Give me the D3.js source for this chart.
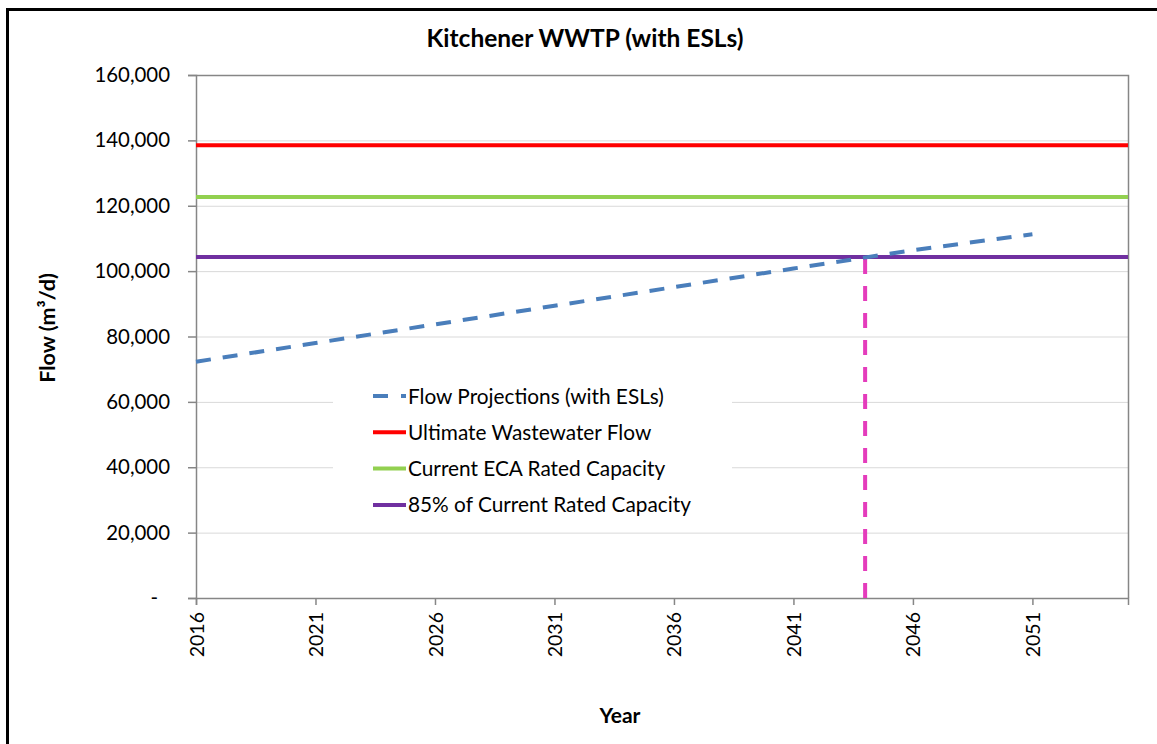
<!DOCTYPE html>
<html lang="en">
<head>
    <meta charset="UTF-8">
    <title>Kitchener WWTP (with ESLs)</title>
    <script src="https://cdn.jsdelivr.net/npm/d3@7"></script>
    <style>
        body { margin: 0; background: #fff; }
        text { font-family: Lato, "Open Sans", sans-serif; fill: #000; }
    </style>
</head>
<body>
    <script>
        // Flow projections (with ESLs), every 5 years
        var years = [2016, 2021, 2026, 2031, 2036, 2041, 2046, 2051];
        var flows = [72300, 78000, 83700, 89400, 95100, 100800, 106400, 111300];

        // Capacity lines (m3/d)
        var ultimateFlow = 138500;
        var ecaCapacity = 122700;
        var capacity85 = 104300;
        var crossYear = 2044;

        var xTicks = [2016, 2021, 2026, 2031, 2036, 2041, 2046, 2051];
        var yTicks = [0, 20000, 40000, 60000, 80000, 100000, 120000, 140000, 160000];
        var xDomain = [2016, 2055];

        var legendLabels = ["Flow Projections (with ESLs)", "Ultimate Wastewater Flow",
                            "Current ECA Rated Capacity", "85% of Current Rated Capacity"];
        var colors = ["#4a7ebb", "#ff0000", "#92d050", "#7030a0"];

        var W = 1157, H = 744;
        var margin = { top: 75, right: 29, bottom: 146, left: 196 };

        var x = d3.scaleLinear()
            .domain(xDomain)
            .range([margin.left, W - margin.right]);

        var y = d3.scaleLinear()
            .domain([0, 160000])
            .range([H - margin.bottom, margin.top]);

        var svg = d3.select("body").append("svg")
            .attr("width", W)
            .attr("height", H);

        // outer chart frame
        svg.append("rect")
            .attr("x", 7.5).attr("y", 9.5)
            .attr("width", W + 20).attr("height", H + 20)
            .attr("fill", "none")
            .attr("stroke", "#000")
            .attr("stroke-width", 3);

        // gridlines
        svg.append("g")
            .selectAll("line")
            .data(yTicks.filter(d => d > 0 && d < 160000))
            .enter().append("line")
            .attr("x1", x(xDomain[0])).attr("x2", x(xDomain[1]))
            .attr("y1", d => y(d) + 0.5).attr("y2", d => y(d) + 0.5)
            .attr("stroke", "#d9d9d9");

        // plot border (top and right)
        svg.append("path")
            .attr("d", "M" + x(xDomain[0]) + "," + (y(160000) + 0.5) +
                       "H" + (x(xDomain[1]) + 0.5) + "V" + y(0))
            .attr("fill", "none")
            .attr("stroke", "#868686")
            .attr("stroke-width", 1.5);

        // y axis
        var yAxis = svg.append("g")
            .attr("transform", "translate(" + x(xDomain[0]) + ",0)")
            .call(d3.axisLeft(y).tickValues(yTicks).tickSize(8).tickPadding(18)
                .tickFormat(d => d === 0 ? "-" : d3.format(",")(d)));
        yAxis.selectAll("text").style("font-size", "20.4px");
        yAxis.selectAll(".tick").filter(d => d === 0).select("text").attr("x", -38);

        // x axis
        var xAxis = svg.append("g")
            .attr("transform", "translate(0," + y(0) + ")")
            .call(d3.axisBottom(x).tickValues(xTicks).tickSize(7).tickFormat(d3.format("d")));
        xAxis.selectAll("text")
            .style("font-size", "19.5px")
            .attr("text-anchor", "end")
            .attr("transform", "rotate(-90)")
            .attr("x", -14)
            .attr("y", 0)
            .attr("dy", "0.36em");

        [yAxis, xAxis].forEach(function (g) {
            g.select(".domain").attr("stroke", "#868686").attr("stroke-width", 1.5);
            g.selectAll(".tick line").attr("stroke", "#868686").attr("stroke-width", 1.5);
        });

        // legend background (hides gridlines)
        var legend = svg.append("g");
        legend.append("rect")
            .attr("x", 333).attr("y", 377)
            .attr("width", 399).attr("height", 146)
            .attr("fill", "#fff");

        // capacity lines
        [ultimateFlow, ecaCapacity, capacity85].forEach(function (v, i) {
            svg.append("line")
                .attr("x1", x(xDomain[0])).attr("x2", x(xDomain[1]))
                .attr("y1", y(v)).attr("y2", y(v))
                .attr("stroke", colors[i + 1])
                .attr("stroke-width", 4);
        });

        // vertical marker where projections cross 85% capacity
        svg.append("line")
            .attr("x1", x(crossYear)).attr("x2", x(crossYear))
            .attr("y1", y(0)).attr("y2", y(capacity85))
            .attr("stroke", "#e43cbc")
            .attr("stroke-width", 4)
            .attr("stroke-dasharray", "15,12");

        // flow projection line
        var line = d3.line()
            .x((d, i) => x(years[i]))
            .y(d => y(d));

        svg.append("path")
            .datum(flows)
            .attr("d", line)
            .attr("fill", "none")
            .attr("stroke", colors[0])
            .attr("stroke-width", 4)
            .attr("stroke-dasharray", "15,12");

        // legend entries
        var rows = legend.selectAll(".entry")
            .data(legendLabels)
            .enter().append("g")
            .attr("transform", (d, i) => "translate(373," + (396 + i * 36.3) + ")");

        rows.append("line")
            .attr("x1", 0).attr("x2", 33)
            .attr("stroke", (d, i) => colors[i])
            .attr("stroke-width", 4)
            .attr("stroke-dasharray", (d, i) => i === 0 ? "15,13" : null);

        rows.append("text")
            .attr("x", 35)
            .attr("dy", "0.36em")
            .style("font-size", "20.8px")
            .text(d => d);

        // titles
        svg.append("text")
            .attr("x", 585).attr("y", 47)
            .attr("text-anchor", "middle")
            .style("font-size", "24.5px")
            .style("font-weight", "bold")
            .text("Kitchener WWTP (with ESLs)");

        svg.append("text")
            .attr("transform", "translate(55,328) rotate(-90)")
            .attr("text-anchor", "middle")
            .style("font-size", "21.5px")
            .style("font-weight", "bold")
            .text("Flow (m³/d)");

        svg.append("text")
            .attr("x", 620).attr("y", 723)
            .attr("text-anchor", "middle")
            .style("font-size", "21px")
            .style("font-weight", "bold")
            .text("Year");
    </script>
</body>
</html>
